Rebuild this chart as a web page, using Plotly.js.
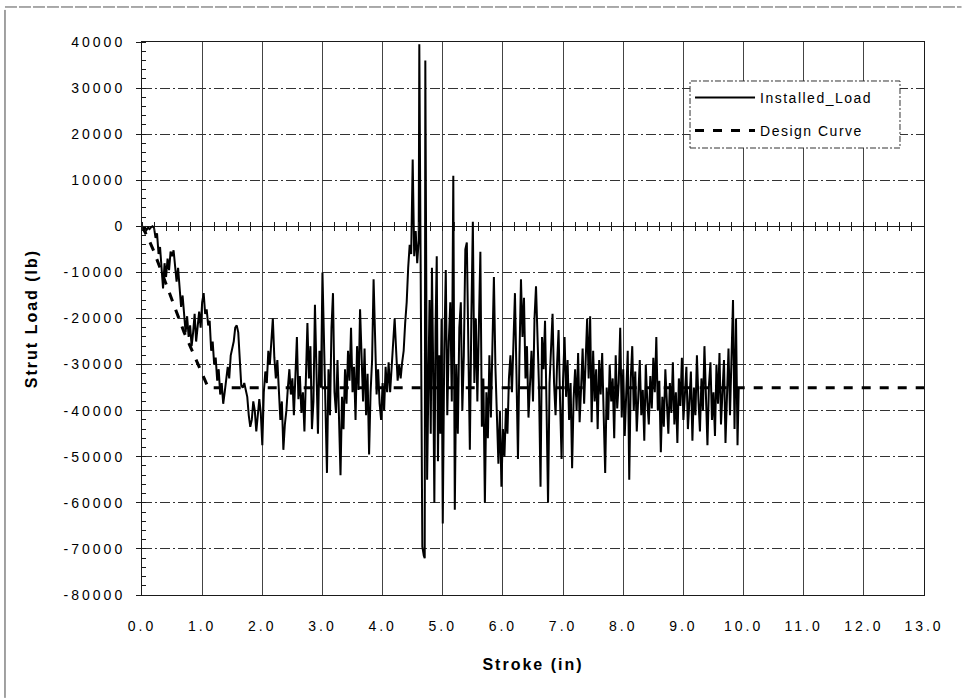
<!DOCTYPE html>
<html><head><meta charset="utf-8">
<script src="https://cdn.plot.ly/plotly-3.0.1.min.js"></script>
<style>
html,body{margin:0;padding:0;background:#fff;}
#chart{width:965px;height:700px;}
.xtick text,.ytick text{letter-spacing:3px;}
.g-xtitle text,.g-ytitle text{letter-spacing:2px;}
.legendtext{letter-spacing:1.5px;}
</style></head><body><div id="chart"></div>
<script>
// Installed_Load: stroke (in) vs strut load (lb)
const stroke = [
0,0.025,0.05,0.075,0.1,0.125,0.15,0.175,0.2,0.225,
0.25,0.275,0.3,0.325,0.35,0.375,0.4,0.425,0.45,0.475,
0.5,0.525,0.55,0.575,0.6,0.625,0.65,0.675,0.7,0.725,
0.75,0.775,0.8,0.825,0.85,0.875,0.9,0.925,0.95,0.975,
1,1.025,1.05,1.075,1.1,1.125,1.15,1.175,1.2,1.225,
1.25,1.275,1.3,1.325,1.35,1.375,1.4,1.425,1.45,1.475,
1.5,1.525,1.55,1.575,1.6,1.625,1.65,1.675,1.7,1.725,
1.75,1.775,1.8,1.825,1.85,1.875,1.9,1.925,1.95,1.975,
2,
2.025,2.05,2.075,2.1,2.125,2.15,2.175,2.2,2.225,2.25,
2.275,2.3,2.325,2.35,2.375,2.4,2.425,2.45,2.475,2.5,
2.525,2.55,2.575,2.6,2.625,2.65,2.675,2.7,2.725,2.75,
2.775,2.8,2.825,2.85,2.875,2.9,2.925,2.95,2.975,3,
3.025,3.05,3.075,3.1,3.125,3.15,3.175,3.2,3.225,3.25,
3.275,3.3,3.325,3.35,3.375,3.4,3.425,3.45,3.475,3.5,
3.525,3.55,3.575,3.6,3.625,3.65,3.675,3.7,3.725,3.75,
3.775,3.8,3.825,3.85,3.875,3.9,3.925,3.95,3.975,4,
4.025,4.05,4.075,4.1,4.125,4.15,4.175,4.2,4.225,4.25,
4.275,4.3,4.325,4.35,4.375,4.4,4.425,4.45,4.475,4.5,
4.525,4.55,4.575,4.6,
4.61,4.635,4.66,4.685,4.7,4.71,4.725,4.74,4.76,4.78,4.8,4.82,4.84,4.86,4.88,4.9,4.92,4.94,4.96,4.98,5,
5.025,5.05,5.075,5.1,5.125,5.15,5.175,5.2,5.225,5.25,
5.275,5.3,5.325,5.35,5.375,5.4,5.425,5.45,5.475,5.5,
5.525,5.55,5.575,5.6,5.625,5.65,5.675,5.7,5.725,5.75,
5.775,5.8,5.825,5.85,5.875,5.9,5.925,5.95,5.975,6,
6.025,6.05,6.075,6.1,6.125,6.15,6.175,6.2,6.225,6.25,
6.275,6.3,6.325,6.35,6.375,6.4,6.425,6.45,6.475,6.5,
6.525,6.55,6.575,6.6,6.625,6.65,6.675,6.7,6.725,6.75,
6.775,6.8,6.825,6.85,6.875,6.9,6.925,6.95,6.975,7,
7.025,7.05,7.075,7.1,7.125,7.15,7.175,7.2,7.225,7.25,
7.275,7.3,7.325,7.35,7.375,7.4,7.425,7.45,7.475,7.5,
7.525,7.55,7.575,7.6,7.625,7.65,7.675,7.7,7.725,7.75,
7.775,7.8,7.825,7.85,7.875,7.9,7.925,7.95,7.975,8,
8.025,8.05,8.075,8.1,8.125,8.15,8.175,8.2,8.225,8.25,
8.275,8.3,8.325,8.35,8.375,8.4,8.425,8.45,8.475,8.5,
8.525,8.55,8.575,8.6,8.625,8.65,8.675,8.7,8.725,8.75,
8.775,8.8,8.825,8.85,8.875,8.9,8.925,8.95,8.975,9,
9.025,9.05,9.075,9.1,9.125,9.15,9.175,9.2,9.225,9.25,
9.275,9.3,9.325,9.35,9.375,9.4,9.425,9.45,9.475,9.5,
9.525,9.55,9.575,9.6,9.625,9.65,9.675,9.7,9.725,9.75,
9.775,9.8,9.825,9.85,9.875,9.9,9.92
];
const installedLoad = [
0,-500,-200,-800,-300,-600,-200,0,-300,-2500,
-1500,-6000,-4500,-9000,-13500,-8000,-11000,-7000,-9500,-5500,
-6500,-5200,-9000,-12000,-9000,-14000,-17500,-15000,-19000,-23000,
-19500,-24000,-21500,-26000,-23000,-19000,-25000,-21000,-18500,-22000,
-16500,-14500,-19000,-18000,-21500,-20500,-27000,-25000,-30000,-28500,
-33500,-31000,-36500,-34000,-38500,-36000,-33000,-30500,-33000,-28000,
-26500,-25000,-22000,-21500,-23000,-28500,-34500,-35000,-34000,-35500,
-37000,-41000,-43500,-42000,-38000,-40000,-44500,-41000,-37500,-40500,
-47500,
-36000,-31500,-34000,-27000,-30000,-24000,-20000,-28500,-33000,-29000,
-36500,-42000,-38000,-48500,-43000,-40000,-35000,-31000,-36500,-33000,
-41000,-30000,-24000,-37500,-32500,-40500,-36000,-44500,-29000,-21000,
-33000,-26000,-44000,-38000,-17000,-30500,-45000,-27000,-35000,-10000,
-24000,-34000,-53500,-31000,-41000,-22000,-14500,-36000,-40500,-29000,
-45000,-54000,-37000,-44000,-31000,-38500,-27000,-33500,-22000,-36000,
-30500,-42000,-26000,-35500,-18000,-30000,-38000,-26500,-41000,-32000,
-49500,-36000,-29000,-11500,-27000,-36500,-31000,-38500,-42000,-34000,
-40000,-30500,-36000,-29500,-36000,-30000,-24000,-20000,-27000,-33500,
-30000,-33000,-29500,-27000,-21000,-16500,-9000,-4000,-6000,14500,
-6500,-1000,-8000,-3000,
39500,-30000,-69500,-71500,-72000,36000,-15000,-55000,-35000,-16000,-45000,-9000,-30000,-60000,-22000,-6500,-51000,-28000,-45000,-20000,-64500,
-27000,-9500,-41000,-25000,-16500,-38000,11000,-61500,-30000,-45000,
-22000,-16500,-40000,-28000,-5000,-3500,-30000,-48500,-20000,1000,
-34000,-20000,-38000,-24000,-5500,-43500,-33000,-60000,-36000,-46000,
-28000,-41500,-22000,-11000,-30500,-42000,-51500,-40000,-56500,-44000,
-50000,-39500,-45000,-33000,-28000,-36000,-22000,-14500,-32000,-50500,
-28000,-11500,-24000,-15500,-33000,-26000,-41500,-35000,-27000,-38000,
-20000,-13000,-26500,-35000,-56500,-24000,-31000,-20500,-39000,-60000,
-34000,-27000,-19000,-34000,-41000,-30000,-22500,-38000,-50500,-33000,
-24000,-37000,-29000,-42000,-34000,-52500,-37500,-31000,-40000,-27500,
-42500,-35000,-26500,-38500,-30000,-20000,-33000,-19500,-42500,-27000,
-38000,-31000,-44000,-29000,-36500,-27500,-41000,-53500,-35000,-42000,
-30000,-38000,-33000,-46000,-28000,-39500,-34000,-22000,-41500,-31000,
-45500,-36500,-27000,-55000,-33000,-26000,-40000,-31500,-44500,-37000,
-29000,-41000,-35500,-46500,-30000,-38000,-43000,-32500,-39500,-28500,
-36000,-24000,-40000,-33500,-49000,-37000,-43500,-31000,-38500,-45000,
-34000,-40500,-29500,-43000,-36000,-47000,-33000,-39000,-28500,-42000,
-36500,-30500,-44000,-38000,-31500,-46500,-35000,-41000,-28000,-37500,
-44500,-33000,-40000,-26000,-39000,-47500,-34500,-29500,-42000,-36000,
-45500,-30000,-38500,-27500,-43000,-35000,-29000,-47000,-33500,-26500,
-41000,-30000,-16000,-44000,-20000,-47500,-35000
];
// Design Curve
const designStroke = [0,0.1,0.2,0.3,0.4,0.5,0.6,0.7,0.8,0.9,1.0,1.1,13];
const designLoad = [0,-2500,-5500,-9000,-12500,-16000,-19500,-23000,-26000,-29000,-32000,-35000,-35000];
// Tick labels
const xTickVals = [0,1,2,3,4,5,6,7,8,9,10,11,12,13];
const xTickText = ['0.0','1.0','2.0','3.0','4.0','5.0','6.0','7.0','8.0','9.0','10.0','11.0','12.0','13.0'];
const yTickVals = [40000,30000,20000,10000,0,-10000,-20000,-30000,-40000,-50000,-60000,-70000,-80000];
const yTickText = ['40000','30000','20000','10000','0','-10000','-20000','-30000','-40000','-50000','-60000','-70000','-80000'];

const ink = '#1a1a1a';
const data = [
  {type:'scatter', mode:'lines', x: stroke, y: installedLoad, name:'Installed_Load',
   line:{color:'#000', width:2}, legendgroup:'a', hoverinfo:'skip'},
  {type:'scatter', mode:'lines', x: designStroke, y: designLoad, name:'Design Curve',
   line:{color:'#000', width:3, dash:'dash'}, legendgroup:'b', hoverinfo:'skip'},
  {type:'scatter', mode:'lines', x: [], y: [], xaxis:'x2', showlegend:false, hoverinfo:'skip'},
  {type:'scatter', mode:'lines', x: [], y: [], xaxis:'x3', showlegend:false, hoverinfo:'skip'}
];

const layout = {
  width: 965, height: 700,
  margin: {l:142, r:41, t:42, b:105, pad:0},
  paper_bgcolor:'#fff', plot_bgcolor:'#fff',
  font: {family:'Liberation Sans, Arial, sans-serif', size:14, color:'#000'},
  showlegend: true,
  legend: {x:0.7008, y:0.928, xanchor:'left', yanchor:'top', bgcolor:'rgba(0,0,0,0)',
           borderwidth:0, font:{size:14, color:'#000'}, tracegroupgap:12, traceorder:'grouped',
           itemwidth:60},
  xaxis: {range:[0,13], tickmode:'array', tickvals:xTickVals, ticktext:xTickText,
          showgrid:true, gridcolor:'#444', gridwidth:1, showline:true, mirror:true, linecolor:ink,
          ticks:'', ticklabelstandoff:18, zeroline:false, fixedrange:true,
          title:{text:'Stroke (in)', font:{size:16, weight:'bold', color:'#000'}, standoff:26}},
  yaxis: {range:[-80000,40000], tickmode:'array', tickvals:yTickVals, ticktext:yTickText,
          showgrid:true, gridcolor:'#333', gridwidth:1, griddash:'10px,3px,2px,3px',
          showline:true, mirror:true, linecolor:ink, ticks:'outside', ticklen:5, tickcolor:ink,
          ticklabelstandoff:8,
          minor:{tickmode:'linear', tick0:0, dtick:2000, ticks:'inside', ticklen:4, tickcolor:ink, showgrid:false},
          zeroline:true, zerolinecolor:ink, zerolinewidth:1, fixedrange:true,
          title:{text:'Strut Load (lb)', font:{size:16, weight:'bold', color:'#000'}, standoff:22}},
  xaxis2: {overlaying:'x', anchor:'free', position:0.6667, range:[0,13], side:'bottom',
           tickmode:'linear', tick0:0, dtick:0.2, ticks:'outside', ticklen:4, tickcolor:ink,
           showticklabels:false, showgrid:false, showline:false, zeroline:false, fixedrange:true},
  xaxis3: {overlaying:'x', anchor:'free', position:0.6667, range:[0,13], side:'top',
           tickmode:'linear', tick0:0, dtick:0.2, ticks:'outside', ticklen:4, tickcolor:ink,
           showticklabels:false, showgrid:false, showline:false, zeroline:false, fixedrange:true},
  shapes: [
    {type:'rect', xref:'paper', yref:'paper', x0:0.7008, x1:0.9693, y0:0.8083, y1:0.9295,
     fillcolor:'#fff', line:{color:'#333', width:1, dash:'6px,2px,2px,2px'}, layer:'above'},
    {type:'line', xref:'paper', yref:'paper', x0:-0.1752, x1:1.048, y0:1.0633, y1:1.0633,
     line:{color:'#555', width:1, dash:'12px,2px'}},
    {type:'line', xref:'paper', yref:'paper', x0:-0.1752, x1:-0.1752, y0:1.058, y1:-0.186,
     line:{color:'#444', width:1}}
  ]
};

Plotly.newPlot('chart', data, layout, {staticPlot:true, displayModeBar:false});
</script></body></html>
